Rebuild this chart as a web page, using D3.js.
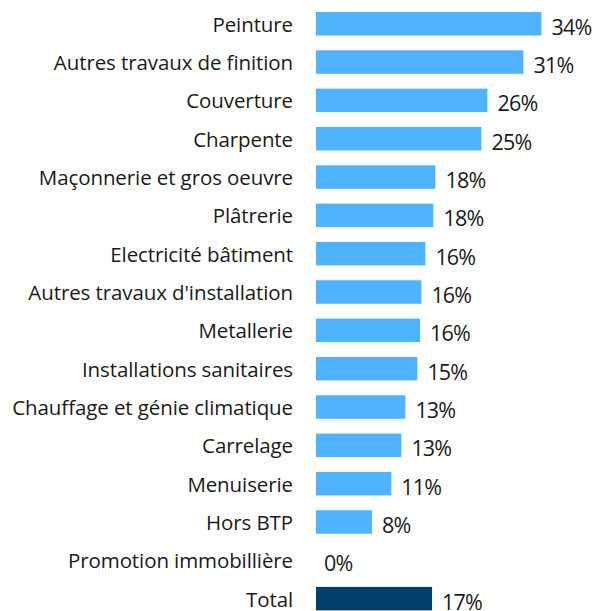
<!DOCTYPE html>
<html>
<head>
<meta charset="utf-8">
<script src="https://cdn.jsdelivr.net/npm/d3@7"></script>
<style>
  body { margin: 0; background: #ffffff; }
  svg text { font-family: "Open Sans", sans-serif; fill: #1a1a1a; }
</style>
</head>
<body>
<div id="chart"></div>
<script>
// catégories de haut en bas
const categories = [
  "Peinture", "Autres travaux de finition", "Couverture", "Charpente",
  "Maçonnerie et gros oeuvre", "Plâtrerie", "Electricité bâtiment",
  "Autres travaux d'installation", "Metallerie", "Installations sanitaires",
  "Chauffage et génie climatique", "Carrelage", "Menuiserie", "Hors BTP",
  "Promotion immobillière", "Total"
];
const values = [33.8, 31.1, 25.7, 24.8, 17.9, 17.6, 16.4, 15.8, 15.6, 15.2, 13.4, 12.8, 11.3, 8.4, 0, 17.4];
const labels = ["34%", "31%", "26%", "25%", "18%", "18%", "16%", "16%", "16%", "15%", "13%", "13%", "11%", "8%", "0%", "17%"];

const width = 595, height = 611;
const barColor = "#4FB3FF";
const totalColor = "#00416B";

const svg = d3.select("#chart")
              .append("svg")
              .attr("width", width)
              .attr("height", height);

const x = d3.scaleLinear().domain([0, 40]).range([316, 316 + 266.8]);
const y = d3.scaleBand()
            .domain(categories)
            .range([12, 610.4])
            .paddingInner(0.387)
            .paddingOuter(0);

const rows = categories.map((c, i) => ({ cat: c, value: values[i], label: labels[i] }));

svg.selectAll("rect.bar")
   .data(rows)
   .enter()
   .append("rect")
   .attr("class", "bar")
   .attr("x", x(0))
   .attr("y", d => y(d.cat))
   .attr("width", d => x(d.value) - x(0))
   .attr("height", y.bandwidth())
   .style("fill", d => d.cat === "Total" ? totalColor : barColor);

// libellés des catégories
svg.selectAll("text.cat")
   .data(rows)
   .enter()
   .append("text")
   .attr("class", "cat")
   .attr("x", 293)
   .attr("y", d => y(d.cat) + y.bandwidth() / 2 + 8)
   .attr("text-anchor", "end")
   .style("font-size", "20.5px")
   .style("letter-spacing", "-0.1px")
   .text(d => d.cat);

// valeurs
svg.selectAll("text.val")
   .data(rows)
   .enter()
   .append("text")
   .attr("class", "val")
   .attr("x", d => x(d.value) + (d.value > 0 ? 10 : 8))
   .attr("y", d => y(d.cat) + y.bandwidth() / 2 + 11)
   .style("font-size", "21.5px")
   .style("letter-spacing", "-0.8px")
   .text(d => d.label);
</script>
</body>
</html>
